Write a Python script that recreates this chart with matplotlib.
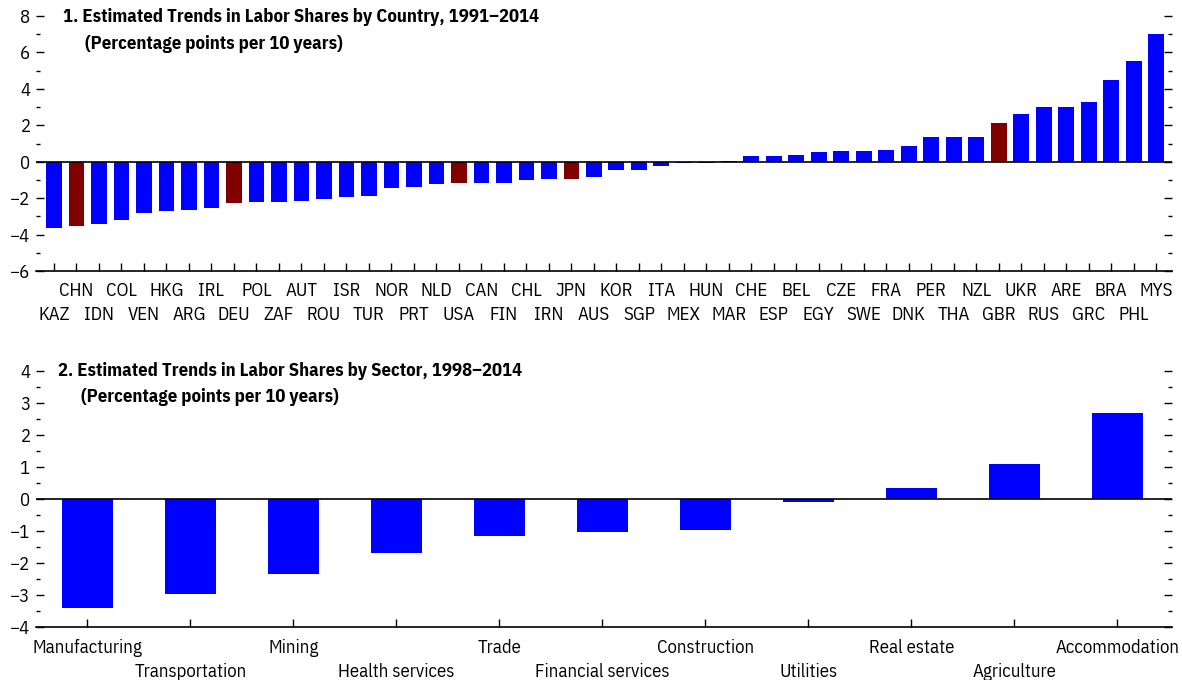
import numpy as np
import matplotlib
matplotlib.use("Agg")
import matplotlib.pyplot as plt
from matplotlib.ticker import MultipleLocator, FixedLocator

plt.rcParams["font.family"] = ["IBM Plex Sans Condensed", "DejaVu Sans"]

# ---- data ----
countries = ["KAZ", "CHN", "IDN", "COL", "VEN", "HKG", "ARG", "IRL", "DEU", "POL",
             "ZAF", "AUT", "ROU", "ISR", "TUR", "NOR", "PRT", "NLD", "USA", "CAN",
             "FIN", "CHL", "IRN", "JPN", "AUS", "KOR", "SGP", "ITA", "MEX", "HUN",
             "MAR", "CHE", "ESP", "BEL", "EGY", "CZE", "SWE", "FRA", "DNK", "PER",
             "THA", "NZL", "GBR", "UKR", "RUS", "ARE", "GRC", "BRA", "PHL", "MYS"]
country_trend = [-3.64, -3.51, -3.42, -3.20, -2.82, -2.71, -2.65, -2.55, -2.27, -2.22,
                 -2.22, -2.16, -2.05, -1.95, -1.89, -1.45, -1.40, -1.24, -1.18, -1.18,
                 -1.15, -1.02, -0.96, -0.96, -0.85, -0.47, -0.47, -0.25, -0.09, -0.09,
                 0.05, 0.29, 0.33, 0.38, 0.55, 0.60, 0.60, 0.66, 0.87, 1.33,
                 1.33, 1.38, 2.13, 2.62, 3.00, 3.00, 3.30, 4.48, 5.52, 6.99]
highlight = ["CHN", "DEU", "USA", "JPN", "GBR"]

sectors = ["Manufacturing", "Transportation", "Mining", "Health services", "Trade",
           "Financial services", "Construction", "Utilities", "Real estate",
           "Agriculture", "Accommodation"]
sector_trend = [-3.40, -2.97, -2.34, -1.68, -1.15, -1.02, -0.96, -0.08, 0.34, 1.10, 2.69]

BLUE = "#0000FF"; RED = "#800000"
W, H = 1182, 680
FS = 13.5    # tick labels
TFS = 13.4   # panel titles
ROW = 17.3   # second label row offset (pt)


def style(ax, ylo, yhi, major, minor):
    ax.set_ylim(ylo, yhi)
    for s in ["top", "left", "right"]:
        ax.spines[s].set_visible(False)
    ax.spines["bottom"].set_linewidth(1.2)
    ax.axhline(0, color="black", lw=1.2, zorder=3)
    ax.yaxis.set_major_locator(MultipleLocator(major))
    ax.yaxis.set_minor_locator(MultipleLocator(minor))
    ax.tick_params(axis="y", which="major", direction="in", length=6, width=1,
                   left=True, right=True, labelsize=FS, pad=4)
    ax.tick_params(axis="y", which="minor", direction="in", length=3, width=1,
                   left=True, right=True)


def two_rows(ax, pos, labels, top_first, pad):
    # staggered category labels: one row on major ticks, the other on minor ticks
    k = 0 if top_first else 1
    top_pos, low_pos = pos[k::2], pos[1 - k::2]
    ax.xaxis.set_major_locator(FixedLocator(top_pos))
    ax.xaxis.set_minor_locator(FixedLocator(low_pos))
    ax.set_xticklabels(labels[k::2])
    ax.set_xticklabels(labels[1 - k::2], minor=True)
    ax.tick_params(axis="x", which="major", direction="in", length=6, width=1,
                   labelsize=FS, pad=pad)
    ax.tick_params(axis="x", which="minor", direction="in", length=6, width=1,
                   labelsize=FS, pad=pad + ROW)


fig = plt.figure(figsize=(W / 100, H / 100), dpi=100)

# ---- 1) by country ----
ax1 = fig.add_axes([36 / W, 1 - 271 / H, 1136 / W, 255 / H])
x = np.arange(len(countries))
cols = [RED if c in highlight else BLUE for c in countries]
ax1.bar(x, country_trend, 0.7, color=cols, zorder=2)
ax1.set_xlim(-0.8, len(countries) - 0.3)
style(ax1, -6, 8, 2, 1)
two_rows(ax1, list(x), countries, top_first=False, pad=8)
ax1.text(27 / 1136, 0.995, "1. Estimated Trends in Labor Shares by Country, 1991\u20132014",
         transform=ax1.transAxes, fontsize=TFS, fontweight="bold", va="center", ha="left")
ax1.text(49 / 1136, 0.89, "(Percentage points per 10 years)",
         transform=ax1.transAxes, fontsize=TFS, fontweight="bold", va="center", ha="left")

# ---- 2) by sector ----
ax2 = fig.add_axes([36 / W, 1 - 627 / H, 1136 / W, 256 / H])
xs = np.arange(len(sectors))
ax2.bar(xs, sector_trend, 0.5, color=BLUE, zorder=2)
ax2.set_xlim(-0.5, len(sectors) - 0.47)
style(ax2, -4, 4, 1, 0.5)
two_rows(ax2, list(xs), sectors, top_first=True, pad=8.5)
ax2.text(22 / 1136, 1.0, "2. Estimated Trends in Labor Shares by Sector, 1998\u20132014",
         transform=ax2.transAxes, fontsize=TFS, fontweight="bold", va="center", ha="left")
ax2.text(45 / 1136, 0.90, "(Percentage points per 10 years)",
         transform=ax2.transAxes, fontsize=TFS, fontweight="bold", va="center", ha="left")

fig.savefig("out.png", dpi=100)
